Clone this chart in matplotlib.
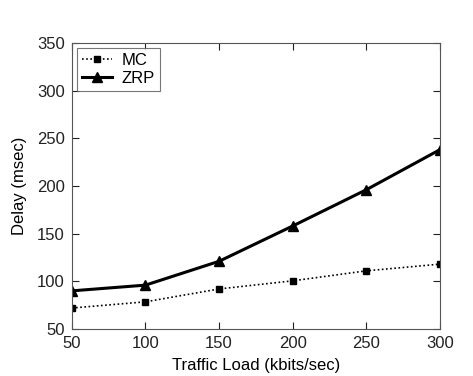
import numpy as np
import matplotlib
matplotlib.use("Agg")
import matplotlib.pyplot as plt

plt.rcParams['font.family'] = ['Liberation Sans', 'DejaVu Sans']

# Values
load = [50, 100, 150, 200, 250, 300]
mc_delay = [72, 78.5, 92, 100.5, 111, 118]
zrp_delay = [90, 96, 121, 158, 196, 238]

fig = plt.figure(figsize=(4.73, 3.76), dpi=100)
ax = fig.add_axes([0.152, 0.125, 0.778, 0.761])

ax.plot(load, mc_delay, color="k", linestyle=(0, (1, 1.5)), linewidth=1.2,
        marker="s", markersize=5, label="MC")
ax.plot(load, zrp_delay, color="k", linestyle="-", linewidth=2.2,
        marker="^", markersize=7, label="ZRP")

ax.set_xlim(50, 300)
ax.set_ylim(50, 350)
ax.set_xticks(load)
ax.set_yticks(np.arange(50, 351, 50))
ax.tick_params(direction="in", top=True, right=True, labelsize=12, length=5,
               pad=5, colors="#222222")
for s in ax.spines.values():
    s.set_color("#555555")
    s.set_linewidth(0.8)

ax.set_xlabel("Traffic Load (kbits/sec)", fontsize=12, labelpad=5)
ax.set_ylabel("Delay (msec)", fontsize=12, labelpad=7)

leg = ax.legend(loc="upper left", fontsize=12, frameon=True, fancybox=False,
                edgecolor="#555555", handlelength=1.8, handletextpad=0.6,
                borderaxespad=0.3, labelspacing=0.2, borderpad=0.3)
leg.get_frame().set_linewidth(0.8)

fig.savefig("out.png", dpi=100)
